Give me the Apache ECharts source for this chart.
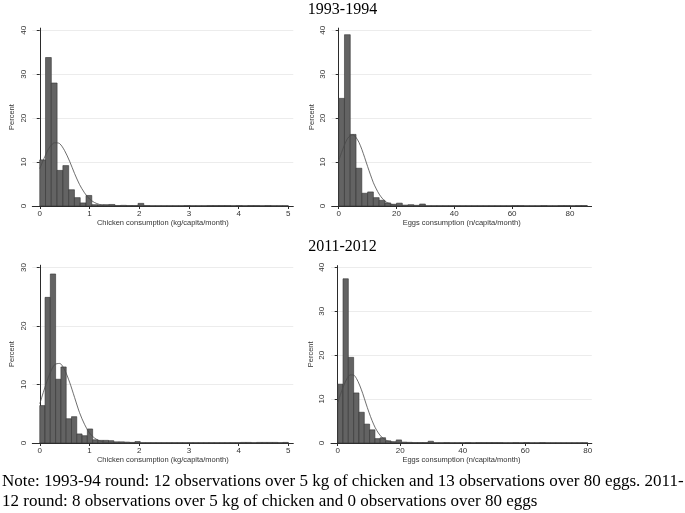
<!DOCTYPE html>
<html>
<head>
<meta charset="utf-8">
<script src="https://cdn.jsdelivr.net/npm/echarts@6/dist/echarts.min.js"></script>
<style>html,body{margin:0;padding:0;background:#fff}#c{width:685px;height:513px}</style>
</head>
<body>
<div id="c"></div>
<script>
// ---------- DATA ----------
const panelTitles = ['1993-1994', '2011-2012'];
const xTitles = ['Chicken consumption (kg/capita/month)', 'Eggs consumption (n/capita/month)'];
const yTitle = 'Percent';
const chickenTicks = [0, 1, 2, 3, 4, 5];
const eggsTicks = [0, 20, 40, 60, 80];
const yTicks40 = [0, 10, 20, 30, 40];
const yTicks30 = [0, 10, 20, 30];

// histogram bin widths (range / number of bins)
const chicken93Bin = 5 / 43;
const eggs93Bin = 86 / 43;
const chicken11Bin = 5 / 47;
const eggs11Bin = 80 / 47;

// bar heights (percent), one per bin
const chicken93 = [
  10.5, 33.8, 28.0, 8.1, 9.2, 3.7, 1.9, 0.7, 2.4, 0.3,
  0.25, 0.3, 0.35, 0.1, 0.15, 0.1, 0.1, 0.6, 0.1, 0.05,
  0.05, 0.05, 0.05, 0.05, 0.05, 0.1, 0.05, 0.05, 0.05, 0.1,
  0.1, 0.1, 0.1, 0.05, 0.1, 0.05, 0.1, 0.1, 0.05, 0.1,
  0.05, 0.05, 0.05
];
const eggs93 = [
  24.5, 39.0, 16.3, 8.6, 2.9, 3.2, 1.9, 1.3, 0.7, 0.4,
  0.65, 0.2, 0.3, 0.15, 0.45, 0.05, 0.05, 0.05, 0.05, 0.05,
  0.05, 0.05, 0.05, 0.05, 0.05, 0.05, 0.05, 0.05, 0.05, 0.05,
  0.1, 0.1, 0.05, 0.05, 0.05, 0.1, 0.05, 0.05, 0.1, 0.1,
  0.05, 0.1, 0.1
];
const chicken11 = [
  6.4, 24.9, 28.9, 10.9, 13.0, 4.15, 4.5, 1.55, 1.25, 2.4,
  0.55, 0.45, 0.45, 0.4, 0.2, 0.2, 0.15, 0.1, 0.25, 0.05,
  0.05, 0.05, 0.05, 0.05, 0.05, 0.05, 0.05, 0.05, 0.05, 0.05,
  0.05, 0.05, 0.05, 0.05, 0.05, 0.05, 0.05, 0.05, 0.1, 0.1,
  0.05, 0.1, 0.1, 0.1, 0.1, 0.05, 0.1
];
const eggs11 = [
  13.4, 37.4, 19.5, 11.4, 7.0, 4.3, 3.0, 1.0, 1.2, 0.5,
  0.3, 0.7, 0.2, 0.15, 0.1, 0.1, 0.1, 0.4, 0.05, 0.05,
  0.1, 0.05, 0.05, 0.05, 0.1, 0.05, 0.1, 0.1, 0.1, 0.1,
  0.1, 0.05, 0.05, 0.1, 0.05, 0.1, 0.05, 0.05, 0.1, 0.05,
  0.05, 0.05, 0.05, 0.05, 0.05, 0.05, 0.05
];

// normal density overlays
const chicken93CurveX = [0, 0.1, 0.2, 0.3, 0.4, 0.5, 0.6, 0.7, 0.8, 0.9, 1.0, 1.1, 1.2, 1.3, 1.4, 1.5, 2, 5];
const chicken93CurveY = [8.5, 11.2, 13.4, 14.4, 14.2, 12.6, 10.2, 7.4, 4.9, 3.0, 1.6, 0.8, 0.36, 0.15, 0.05, 0.02, 0, 0];
const eggs93CurveX = [0, 1, 2, 3, 4, 5, 6, 7, 8, 9, 10, 11, 12, 13, 14, 15, 16, 17, 18, 19, 20, 22, 24, 86];
const eggs93CurveY = [10.3, 12.2, 13.9, 15.3, 16.0, 16.2, 15.6, 14.5, 12.9, 11.0, 9.0, 7.1, 5.3, 3.9, 2.7, 1.8, 1.1, 0.7, 0.4, 0.23, 0.12, 0.03, 0, 0];
const chicken11CurveX = [0, 0.1, 0.2, 0.3, 0.4, 0.5, 0.6, 0.7, 0.8, 0.9, 1.0, 1.1, 1.2, 1.3, 1.4, 1.5, 2, 5];
const chicken11CurveY = [6.7, 9.4, 11.8, 13.4, 13.6, 12.5, 10.4, 7.8, 5.2, 3.2, 1.7, 0.86, 0.38, 0.15, 0.05, 0.02, 0, 0];
const eggs11CurveX = [0, 1, 2, 3, 4, 5, 6, 7, 8, 9, 10, 11, 12, 13, 14, 15, 16, 17, 18, 19, 20, 80];
const eggs11CurveY = [9.1, 11.3, 13.2, 14.7, 15.5, 15.5, 14.7, 13.2, 11.3, 9.1, 7.0, 5.1, 3.5, 2.3, 1.4, 0.85, 0.47, 0.25, 0.13, 0.06, 0.03, 0];

const noteText = 'Note: 1993-94 round: 12 observations over 5 kg of chicken and 13 observations over 80 eggs. 2011-\n12 round: 8 observations over 5 kg of chicken and 0 observations over 80 eggs';

// ---------- CHART ----------
const chart = echarts.init(document.getElementById('c'), null, {renderer: 'canvas'});
const SANS = 'Liberation Sans, Arial, sans-serif';
const SERIF = 'Liberation Serif, Times New Roman, serif';
const AX = '#2b2b2b';

const panels = [
  {grid: {left: 32.3, top: 28.1, width: 261, height: 177.9}, xmin: -0.15, xmax: 5.1, ymax: 40.5, xt: chickenTicks, yt: yTicks40, bars: chicken93, bw: chicken93Bin, cx: chicken93CurveX, cy: chicken93CurveY, xname: xTitles[0]},
  {grid: {left: 331.7, top: 28.1, width: 259.9, height: 177.9}, xmin: -2.42, xmax: 87.5, ymax: 40.5, xt: eggsTicks, yt: yTicks40, bars: eggs93, bw: eggs93Bin, cx: eggs93CurveX, cy: eggs93CurveY, xname: xTitles[1]},
  {grid: {left: 32.3, top: 265.2, width: 261, height: 177.8}, xmin: -0.15, xmax: 5.1, ymax: 30.4, xt: chickenTicks, yt: yTicks30, bars: chicken11, bw: chicken11Bin, cx: chicken11CurveX, cy: chicken11CurveY, xname: xTitles[0]},
  {grid: {left: 331, top: 265.6, width: 260.8, height: 177.4}, xmin: -2.14, xmax: 81.3, ymax: 40.4, xt: eggsTicks, yt: yTicks40, bars: eggs11, bw: eggs11Bin, cx: eggs11CurveX, cy: eggs11CurveY, xname: xTitles[1]}
];

const option = {
  backgroundColor: '#ffffff',
  animation: false,
  title: [
    {text: panelTitles[0], left: 'center', top: 1, padding: 0, textStyle: {fontFamily: SERIF, fontSize: 16, fontWeight: 'normal', color: '#000', lineHeight: 18}},
    {text: panelTitles[1], left: 'center', top: 238, padding: 0, textStyle: {fontFamily: SERIF, fontSize: 16, fontWeight: 'normal', color: '#000', lineHeight: 18}},
    {text: noteText, left: 2, top: 472, padding: 0, textStyle: {fontFamily: SERIF, fontSize: 17, fontWeight: 'normal', color: '#000', lineHeight: 20}}
  ],
  grid: panels.map(p => Object.assign({containLabel: false}, p.grid)),
  xAxis: panels.map((p, i) => ({
    type: 'value', gridIndex: i, min: p.xmin, max: p.xmax,
    name: p.xname, nameLocation: 'middle', nameGap: 12,
    nameTextStyle: {fontFamily: SANS, fontSize: 7.5, color: '#333'},
    axisLine: {show: true, onZero: false, lineStyle: {color: AX, width: 1}},
    axisTick: {show: true, length: 3, customValues: p.xt, lineStyle: {color: AX}},
    axisLabel: {customValues: p.xt, fontFamily: SANS, fontSize: 8, color: '#333', margin: 4},
    splitLine: {show: false}
  })),
  yAxis: panels.map((p, i) => ({
    type: 'value', gridIndex: i, min: 0, max: p.ymax,
    name: yTitle, nameLocation: 'middle', nameGap: 16, nameRotate: 90,
    nameTextStyle: {fontFamily: SANS, fontSize: 7.5, color: '#333'},
    axisLine: {show: true, lineStyle: {color: AX, width: 1}},
    axisTick: {show: true, length: 3, customValues: p.yt, lineStyle: {color: AX}},
    axisLabel: {customValues: p.yt, rotate: 90, fontFamily: SANS, fontSize: 8, color: '#333', margin: 5},
    splitLine: {show: true, lineStyle: {color: '#ececec', width: 1}}
  })),
  series: []
};

panels.forEach((p, i) => {
  option.series.push({
    type: 'custom', xAxisIndex: i, yAxisIndex: i,
    data: p.bars.map((h, k) => [k * p.bw, (k + 1) * p.bw, h]),
    encode: {x: [0, 1], y: 2},
    renderItem: function (params, api) {
      const a = api.coord([api.value(0), api.value(2)]);
      const b = api.coord([api.value(1), 0]);
      return {
        type: 'rect',
        shape: {x: a[0], y: a[1], width: b[0] - a[0], height: b[1] - a[1]},
        style: {fill: '#636363', stroke: '#333333', lineWidth: 0.6}
      };
    },
    z: 2
  });
  option.series.push({
    type: 'line', xAxisIndex: i, yAxisIndex: i,
    data: p.cx.map((x, k) => [x, p.cy[k]]),
    smooth: 0.3, showSymbol: false, symbol: 'none',
    lineStyle: {color: '#4a4a4a', width: 0.8},
    z: 3
  });
});

chart.setOption(option);
</script>
</body>
</html>
